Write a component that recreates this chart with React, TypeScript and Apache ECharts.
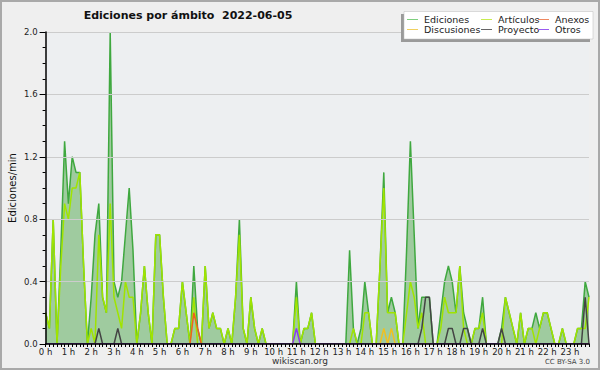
import React, { useEffect, useRef } from "react";
import * as echarts from "echarts";

// 10-minute slots over the day (144 points)
const slotCount = 144;
const hourLabels = ["0 h","1 h","2 h","3 h","4 h","5 h","6 h","7 h","8 h","9 h","10 h","11 h","12 h","13 h","14 h","15 h","16 h","17 h","18 h","19 h","20 h","21 h","22 h","23 h"];
const yTicks = [0, 0.4, 0.8, 1.2, 1.6, 2.0];

const ediciones = [
  0.2,0.1,0.8,0,0.6,1.3,0.9,1.2,1.1,1.1,0.5,0,
  0.3,0.7,0.9,0.3,0.2,2.0,0.4,0.3,0.4,0.7,1.0,0.6,
  0,0.2,0.5,0.2,0,0.7,0.7,0.3,0,0,0.1,0.1,
  0.4,0.2,0,0.5,0.1,0,0.5,0.1,0.2,0.1,0.1,0,
  0.1,0,0.3,0.8,0.1,0,0.3,0.1,0,0.1,0,0,
  0,0,0,0,0,0,0.4,0,0.1,0.1,0.2,0,
  0,0,0,0,0,0,0,0,0.6,0.1,0,0.1,
  0.4,0.2,0,0,0.5,1.1,0.2,0.3,0.2,0,0,0.6,
  1.3,0.7,0.1,0.3,0.3,0.3,0,0,0.2,0.4,0.5,0.4,
  0.2,0.5,0.2,0.1,0,0.1,0.1,0.3,0,0,0,0,
  0.1,0.3,0.2,0.1,0,0.2,0,0.1,0.1,0.2,0.1,0.2,
  0.2,0.1,0,0,0.1,0,0,0,0.1,0.1,0.4,0.3,
];

const articulos = [
  0.2,0.1,0.8,0,0.5,0.9,0.8,1.0,1.0,1.1,0.5,0,
  0.1,0,0.7,0.3,0.2,0.9,0.3,0.2,0.1,0.4,0.3,0.3,
  0,0.2,0.5,0.2,0,0.7,0.7,0.3,0,0,0.1,0.1,
  0.4,0.2,0,0.3,0,0,0.5,0.1,0.2,0.1,0.1,0,
  0.1,0,0.3,0.7,0.1,0,0.3,0.1,0,0.1,0,0,
  0,0,0,0,0,0,0.3,0,0.1,0.1,0.2,0,
  0,0,0,0,0,0,0,0,0,0.1,0,0,
  0.2,0.2,0,0,0.5,1.0,0.2,0.2,0.2,0,0,0.2,
  0.4,0.3,0.1,0.2,0,0,0,0,0.1,0.3,0.2,0.2,
  0.2,0.5,0.1,0,0,0.1,0.1,0.2,0,0,0,0,
  0,0.3,0.2,0.1,0,0.2,0,0.1,0.1,0,0.1,0.2,
  0.2,0.1,0,0,0.1,0,0,0,0.1,0.1,0.1,0.3,
];

const discusiones = [
  0,0,0,0,0,0,0,0,0,0,0,0,
  0,0,0,0,0,0,0,0,0,0,0,0,
  0,0,0,0,0,0,0,0,0,0,0,0,
  0,0,0,0,0,0,0,0,0,0,0,0,
  0,0,0,0,0,0,0,0,0,0,0,0,
  0,0,0,0,0,0,0,0,0,0,0,0,
  0,0,0,0,0,0,0,0,0,0,0,0,
  0,0,0,0,0,0.1,0,0.1,0,0,0,0,
  0,0,0,0,0,0,0,0,0,0,0,0,
  0,0,0,0,0,0,0,0,0,0,0,0,
  0,0,0,0,0,0,0,0,0,0,0,0,
  0,0,0,0,0,0,0,0,0,0,0,0,
];

const anexos = [
  0,0,0,0,0,0,0,0,0,0,0,0,
  0,0,0,0,0,0,0,0,0,0,0,0,
  0,0,0,0,0,0,0,0,0,0,0,0,
  0,0,0,0.2,0.1,0,0,0,0,0,0,0,
  0,0,0,0,0,0,0,0,0,0,0,0,
  0,0,0,0,0,0,0,0,0,0,0,0,
  0,0,0,0,0,0,0,0,0,0,0,0,
  0,0,0,0,0,0,0,0,0,0,0,0,
  0,0,0,0,0,0,0,0,0,0,0,0,
  0,0,0,0,0,0,0,0,0,0,0,0,
  0,0,0,0,0,0,0,0,0,0,0,0,
  0,0,0,0,0,0,0,0,0,0,0,0,
];

const proyecto = [
  0,0,0,0,0,0,0,0,0,0,0,0,
  0,0,0.1,0,0,0,0,0.1,0,0,0,0,
  0,0,0,0,0,0,0,0,0,0,0,0,
  0,0,0,0,0,0,0,0,0,0,0,0,
  0,0,0,0,0,0,0,0,0,0,0,0,
  0,0,0,0,0,0,0,0,0,0,0,0,
  0,0,0,0,0,0,0,0,0,0,0,0,
  0,0,0,0,0,0,0,0,0,0,0,0,
  0,0,0,0.1,0.3,0.3,0,0,0,0,0.1,0.1,
  0,0,0.1,0.1,0,0,0,0.1,0,0,0,0,
  0.1,0,0,0,0,0,0,0,0,0,0,0,
  0,0,0,0,0,0,0,0,0,0,0.3,0,
];

const otros = [
  0,0,0,0,0,0,0,0,0,0,0,0,
  0,0,0,0,0,0,0,0,0,0,0,0,
  0,0,0,0,0,0,0,0,0,0,0,0,
  0,0,0,0,0,0,0,0,0,0,0,0,
  0,0,0,0,0,0,0,0,0,0,0,0,
  0,0,0,0,0,0,0.1,0,0,0,0,0,
  0,0,0,0,0,0,0,0,0,0,0,0,
  0,0,0,0,0,0,0,0,0,0,0,0,
  0,0,0,0,0,0,0,0,0,0,0,0,
  0,0,0,0,0,0,0,0,0,0,0,0,
  0,0,0,0,0,0,0,0,0,0,0,0,
  0,0,0,0,0,0,0,0,0,0,0,0,
];

const FONT = '"DejaVu Sans", sans-serif';

const seriesDefs = [
  { name: "Ediciones", data: ediciones, color: "#3fa83f", legend: "#7fcf7f", area: true },
  { name: "Artículos", data: articulos, color: "#a0e400", legend: "#c8ec50", area: false },
  { name: "Discusiones", data: discusiones, color: "#f0c020", legend: "#f0d060", area: false },
  { name: "Anexos", data: anexos, color: "#ee6020", legend: "#ee8860", area: false },
  { name: "Proyecto", data: proyecto, color: "#444444", legend: "#666666", area: false },
  { name: "Otros", data: otros, color: "#8a3cf0", legend: "#9a5cf0", area: false },
];

// legend layout: [name, column, row]
const legendLayout: [string, number, number][] = [
  ["Ediciones", 0, 0],
  ["Artículos", 1, 0],
  ["Anexos", 2, 0],
  ["Discusiones", 0, 1],
  ["Proyecto", 1, 1],
  ["Otros", 2, 1],
];
const legendColX = [407, 481, 538];
const legendRowY = [19.5, 29.5];

export default function App() {
  const ref = useRef<HTMLDivElement>(null);
  useEffect(() => {
    if (!ref.current) return;
    const chart = echarts.init(ref.current, undefined, { renderer: "svg" });
    const categories = Array.from({ length: slotCount }, (_, i) => String(i));

    const legendGraphics: any[] = [];
    legendLayout.forEach(([name, col, row]) => {
      const def = seriesDefs.find((d) => d.name === name)!;
      const x = legendColX[col];
      const y = legendRowY[row];
      legendGraphics.push({
        type: "line",
        shape: { x1: x, y1: y, x2: x + 11, y2: y },
        style: { stroke: def.legend, lineWidth: 1 },
        z: 101,
      });
      legendGraphics.push({
        type: "text",
        x: x + 17,
        y: y,
        style: {
          text: name,
          font: `9.5px ${FONT}`,
          fill: "#222",
          textVerticalAlign: "middle",
          verticalAlign: "middle",
        },
        z: 101,
      });
    });

    const option: any = {
      animation: false,
      backgroundColor: "#efefef",
      grid: {
        left: 45.6,
        right: 11,
        top: 32,
        bottom: 26,
        containLabel: false,
        outerBoundsMode: "none",
        show: true,
        backgroundColor: "#edeff1",
        borderWidth: 0,
      },
      xAxis: {
        type: "category",
        data: categories,
        boundaryGap: false,
        z: 20,
        axisLine: { show: true, lineStyle: { color: "#000", width: 1.5 } },
        axisTick: { show: true, interval: 0, length: 3, lineStyle: { color: "#000", width: 1 } },
        axisLabel: {
          interval: 5,
          margin: 3,
          fontFamily: FONT,
          fontSize: 8.5,
          color: "#222",
          formatter: (_v: string, idx: number) => (idx % 6 === 0 ? hourLabels[idx / 6] : ""),
        },
        splitLine: { show: false },
      },
      yAxis: {
        type: "value",
        min: yTicks[0],
        max: yTicks[yTicks.length - 1],
        interval: 0.4,
        z: 20,
        name: "Ediciones/min",
        nameLocation: "middle",
        nameGap: 28,
        nameMoveOverlap: false,
        nameTextStyle: { fontFamily: FONT, fontSize: 10, color: "#111" },
        axisLine: { show: true, lineStyle: { color: "#000", width: 1.5 } },
        axisTick: { show: true, length: 6, lineStyle: { color: "#000", width: 1 } },
        minorTick: { show: true, splitNumber: 4, length: 3, lineStyle: { color: "#000", width: 1 } },
        axisLabel: {
          margin: 8,
          fontFamily: FONT,
          fontSize: 8.5,
          color: "#222",
          formatter: (v: number) => v.toFixed(1),
        },
        splitLine: { show: true, lineStyle: { color: "#cccccc", width: 1 } },
      },
      series: seriesDefs.map((d, k) => ({
        name: d.name,
        type: "line",
        data: d.data,
        symbol: "none",
        z: 2 + k,
        lineStyle: { color: d.color, width: 1.5 },
        itemStyle: { color: d.color },
        areaStyle: d.area ? { color: "#9fcb9f", opacity: 1 } : undefined,
      })),
      graphic: [
        {
          type: "rect",
          shape: { x: 1, y: 1, width: 598, height: 368 },
          style: { fill: "none", stroke: "#a9a9a9", lineWidth: 2 },
          z: 100,
        },
        {
          type: "text",
          x: 188,
          y: 15,
          style: {
            text: "Ediciones por ámbito  2022-06-05",
            font: `bold 11px ${FONT}`,
            fill: "#111",
            textAlign: "center",
            align: "center",
            verticalAlign: "middle",
            textVerticalAlign: "middle",
          },
          z: 100,
        },
        {
          type: "rect",
          shape: { x: 401, y: 14, width: 189, height: 28 },
          style: { fill: "#9a9a9a" },
          z: 99,
        },
        {
          type: "rect",
          shape: { x: 404, y: 11.5, width: 189, height: 27.5 },
          style: { fill: "#ffffff", stroke: "#bbbbbb", lineWidth: 0.5 },
          z: 100,
        },
        ...legendGraphics,
        {
          type: "text",
          x: 300,
          y: 361,
          style: {
            text: "wikiscan.org",
            font: `9px ${FONT}`,
            fill: "#333",
            textAlign: "center",
            align: "center",
            verticalAlign: "middle",
            textVerticalAlign: "middle",
          },
          z: 100,
        },
        {
          type: "text",
          x: 590,
          y: 362,
          style: {
            text: "CC BY-SA 3.0",
            font: `7px ${FONT}`,
            fill: "#444",
            textAlign: "right",
            align: "right",
            verticalAlign: "middle",
            textVerticalAlign: "middle",
          },
          z: 100,
        },
      ],
    };
    chart.setOption(option);
    return () => chart.dispose();
  }, []);
  return (
    <div
      ref={ref}
      style={{ position: "absolute", left: 0, top: 0, width: 600, height: 370 }}
    />
  );
}
